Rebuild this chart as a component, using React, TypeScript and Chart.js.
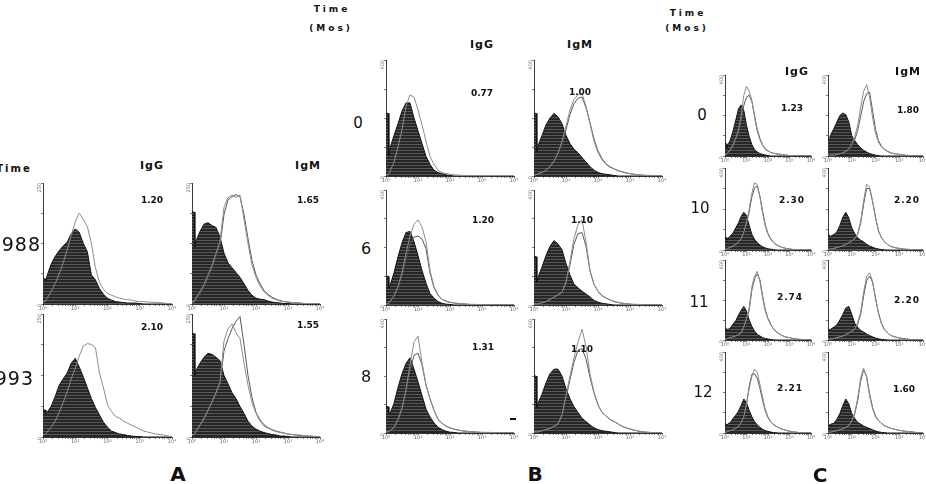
import React, { useEffect, useRef } from "react";
import { Chart, registerables } from "chart.js";

Chart.register(...registerables);

const SANS = '"DejaVu Sans", "Liberation Sans", Arial, sans-serif';

// Fluorescence channel positions in decades (10^0 .. 10^4); the first two
// channels form the narrow pile-up bin at the bottom of the scale.
const CHANNELS = [
  0, 0.07, 0.09, 0.125, 0.25, 0.375, 0.5, 0.625, 0.75, 0.875, 1,
  1.125, 1.25, 1.375, 1.5, 1.625, 1.75, 1.875, 2,
  2.125, 2.25, 2.375, 2.5, 2.625, 2.75, 2.875, 3,
  3.125, 3.25, 3.375, 3.5, 3.625, 3.75, 3.875, 4,
];

const DECADE_LABELS = ["10\u2070", "10\u00B9", "10\u00B2", "10\u00B3", "10\u2074"];
const MINOR_STEPS = [2, 3, 4, 5, 6, 7, 8, 9];

// ---------- Panel A (counts, full scale 250) ----------
const A_IGG_1988_CONTROL = [52, 52, 48, 58, 82, 98, 110, 120, 128, 145, 155, 148, 125, 108, 60, 50, 32, 20, 12, 8, 5, 4, 3, 2, 2, 2, 1, 0, 0, 0, 0, 0, 0, 0, 0];
const A_IGG_1988_STAINED = [5, 5, 5, 12, 25, 42, 62, 85, 112, 142, 170, 188, 175, 160, 125, 75, 45, 30, 22, 18, 15, 12, 10, 9, 8, 6, 5, 5, 4, 4, 3, 3, 2, 1, 0];

const A_IGM_1988_CONTROL = [190, 190, 118, 130, 150, 165, 168, 162, 158, 138, 105, 85, 75, 65, 55, 42, 28, 18, 12, 10, 9, 6, 4, 3, 2, 1, 1, 0, 0, 0, 0, 0, 0, 0, 0];
const A_IGM_1988_STAINED_1 = [5, 5, 5, 12, 25, 40, 60, 80, 105, 130, 200, 220, 225, 220, 225, 175, 125, 80, 55, 38, 25, 18, 12, 9, 6, 5, 4, 3, 3, 2, 1, 1, 1, 0, 0];
const A_IGM_1988_STAINED_2 = [4, 4, 4, 10, 22, 36, 55, 75, 98, 122, 185, 215, 222, 226, 222, 185, 135, 90, 60, 42, 28, 20, 14, 10, 7, 5, 4, 3, 2, 2, 1, 1, 1, 0, 0];

const A_IGG_1993_CONTROL = [55, 55, 48, 50, 62, 82, 105, 118, 130, 150, 160, 142, 122, 100, 78, 60, 45, 30, 20, 12, 9, 6, 5, 3, 2, 1, 1, 0, 0, 0, 0, 0, 0, 0, 0];
const A_IGG_1993_STAINED = [5, 5, 5, 10, 20, 32, 50, 70, 92, 118, 140, 165, 185, 190, 188, 182, 130, 100, 65, 52, 42, 38, 32, 28, 24, 20, 16, 12, 10, 8, 6, 5, 4, 2, 1];

const A_IGM_1993_CONTROL = [210, 210, 125, 135, 150, 162, 170, 168, 162, 155, 125, 108, 90, 78, 62, 48, 32, 22, 16, 12, 9, 7, 5, 4, 2, 2, 1, 0, 0, 0, 0, 0, 0, 0, 0];
const A_IGM_1993_STAINED_1 = [5, 5, 5, 12, 25, 38, 55, 72, 90, 112, 195, 220, 230, 212, 200, 150, 105, 70, 48, 32, 22, 18, 14, 11, 9, 8, 6, 5, 4, 4, 3, 2, 2, 1, 1];
const A_IGM_1993_STAINED_2 = [4, 4, 4, 10, 22, 35, 52, 70, 88, 108, 175, 200, 220, 235, 245, 188, 125, 80, 50, 35, 25, 19, 15, 12, 10, 8, 6, 5, 4, 3, 3, 2, 1, 1, 0];

// ---------- Panel B (counts, full scale 400) ----------
const B_IGG_0_CONTROL = [216, 216, 72, 96, 140, 180, 224, 252, 252, 200, 156, 112, 68, 40, 20, 12, 8, 4, 2, 0, 0, 0, 0, 0, 0, 0, 0, 0, 0, 0, 0, 0, 0, 0, 0];
const B_IGG_0_STAINED = [4, 4, 4, 16, 48, 100, 160, 240, 280, 272, 228, 176, 120, 68, 40, 20, 12, 8, 6, 4, 3, 2, 2, 1, 1, 1, 0, 0, 0, 0, 0, 0, 0, 0, 0];

const B_IGM_0_CONTROL = [216, 216, 84, 104, 140, 176, 200, 216, 204, 180, 140, 112, 92, 80, 64, 48, 32, 20, 12, 8, 6, 4, 2, 0, 0, 0, 0, 0, 0, 0, 0, 0, 0, 0, 0];
const B_IGM_0_STAINED_1 = [4, 4, 4, 8, 12, 20, 32, 52, 80, 120, 172, 228, 264, 280, 284, 240, 180, 120, 80, 56, 40, 30, 24, 18, 14, 10, 8, 6, 4, 3, 2, 2, 1, 1, 0];
const B_IGM_0_STAINED_2 = [4, 4, 4, 8, 12, 20, 30, 50, 76, 112, 160, 212, 250, 268, 272, 236, 184, 128, 86, 60, 42, 32, 25, 19, 15, 11, 8, 6, 4, 3, 2, 2, 1, 1, 0];

const B_IGG_6_CONTROL = [100, 100, 60, 68, 112, 168, 216, 252, 256, 220, 172, 120, 76, 40, 24, 12, 6, 3, 2, 0, 0, 0, 0, 0, 0, 0, 0, 0, 0, 0, 0, 0, 0, 0, 0];
const B_IGG_6_STAINED_1 = [4, 4, 4, 12, 32, 64, 112, 180, 240, 280, 296, 272, 220, 120, 64, 36, 20, 14, 10, 7, 6, 4, 3, 2, 2, 2, 1, 1, 1, 0, 0, 0, 0, 0, 0];
const B_IGG_6_STAINED_2 = [4, 4, 4, 12, 30, 60, 104, 160, 210, 236, 240, 230, 196, 112, 60, 34, 19, 13, 9, 7, 5, 4, 3, 2, 2, 1, 1, 1, 0, 0, 0, 0, 0, 0, 0];

const B_IGM_6_CONTROL = [168, 168, 80, 96, 132, 172, 204, 224, 212, 192, 144, 104, 72, 60, 48, 38, 28, 16, 10, 6, 4, 2, 0, 0, 0, 0, 0, 0, 0, 0, 0, 0, 0, 0, 0];
const B_IGM_6_STAINED_1 = [4, 4, 4, 4, 8, 12, 20, 28, 36, 44, 80, 152, 232, 280, 296, 220, 120, 72, 48, 32, 24, 18, 12, 9, 6, 5, 3, 2, 2, 1, 1, 0, 0, 0, 0];
const B_IGM_6_STAINED_2 = [4, 4, 4, 4, 8, 12, 18, 26, 34, 42, 76, 140, 212, 248, 252, 205, 118, 72, 48, 32, 24, 18, 12, 9, 6, 5, 3, 2, 2, 1, 1, 0, 0, 0, 0];

const B_IGG_8_CONTROL = [92, 92, 68, 68, 104, 160, 208, 244, 264, 224, 180, 132, 84, 56, 36, 20, 12, 6, 3, 2, 0, 0, 0, 0, 0, 0, 0, 0, 0, 0, 0, 0, 0, 0, 0];
const B_IGG_8_STAINED_1 = [4, 4, 4, 8, 20, 48, 88, 152, 240, 320, 340, 248, 168, 120, 80, 48, 34, 24, 18, 14, 10, 8, 6, 5, 4, 3, 2, 2, 2, 1, 1, 1, 0, 0, 0];
const B_IGG_8_STAINED_2 = [4, 4, 4, 8, 18, 44, 84, 144, 220, 272, 280, 240, 168, 120, 80, 48, 34, 24, 18, 14, 10, 8, 6, 5, 4, 3, 2, 2, 2, 1, 1, 1, 0, 0, 0];

const B_IGM_8_CONTROL = [200, 200, 88, 104, 136, 176, 208, 224, 224, 200, 156, 120, 92, 72, 52, 40, 28, 18, 12, 8, 6, 4, 2, 0, 0, 0, 0, 0, 0, 0, 0, 0, 0, 0, 0];
const B_IGM_8_STAINED_1 = [4, 4, 4, 4, 8, 12, 16, 24, 32, 64, 132, 200, 264, 320, 364, 304, 208, 144, 100, 72, 60, 48, 40, 32, 24, 18, 14, 10, 7, 5, 3, 2, 1, 1, 0];
const B_IGM_8_STAINED_2 = [4, 4, 4, 4, 8, 12, 16, 22, 30, 60, 124, 188, 248, 290, 296, 260, 196, 140, 98, 72, 60, 48, 40, 32, 24, 18, 14, 10, 7, 5, 3, 2, 1, 1, 0];

// ---------- Panel C (counts, full scale 400) ----------
const C_IGG_0_CONTROL = [60, 60, 40, 52, 80, 124, 176, 232, 252, 224, 152, 96, 56, 32, 20, 12, 8, 5, 2, 0, 0, 0, 0, 0, 0, 0, 0, 0, 0, 0, 0, 0, 0, 0, 0];
const C_IGG_0_STAINED_1 = [8, 8, 8, 16, 32, 56, 88, 128, 200, 300, 344, 320, 276, 192, 120, 80, 52, 32, 24, 18, 14, 11, 9, 7, 5, 4, 2, 2, 1, 1, 0, 0, 0, 0, 0];
const C_IGG_0_STAINED_2 = [6, 6, 6, 12, 26, 48, 78, 116, 176, 250, 290, 300, 268, 200, 130, 86, 56, 34, 25, 18, 14, 11, 9, 7, 5, 4, 2, 2, 1, 1, 0, 0, 0, 0, 0];

const C_IGM_0_CONTROL = [80, 80, 100, 108, 136, 168, 200, 212, 204, 168, 100, 76, 56, 40, 28, 20, 12, 8, 4, 2, 0, 0, 0, 0, 0, 0, 0, 0, 0, 0, 0, 0, 0, 0, 0];
const C_IGM_0_STAINED_1 = [4, 4, 4, 4, 4, 8, 12, 16, 24, 36, 60, 96, 152, 240, 320, 352, 292, 192, 112, 68, 44, 32, 22, 16, 12, 10, 8, 6, 4, 3, 2, 1, 1, 0, 0];
const C_IGM_0_STAINED_2 = [4, 4, 4, 4, 4, 8, 10, 14, 20, 30, 50, 80, 126, 196, 268, 308, 316, 224, 132, 76, 48, 34, 24, 17, 12, 10, 8, 6, 4, 3, 2, 1, 1, 0, 0];

const C_IGG_10_CONTROL = [60, 60, 48, 56, 68, 84, 108, 132, 164, 184, 168, 120, 76, 52, 36, 24, 16, 10, 6, 4, 2, 0, 0, 0, 0, 0, 0, 0, 0, 0, 0, 0, 0, 0, 0];
const C_IGG_10_STAINED_1 = [4, 4, 4, 8, 12, 20, 28, 40, 56, 88, 136, 200, 276, 328, 320, 256, 180, 116, 76, 52, 36, 26, 20, 14, 10, 7, 5, 3, 2, 1, 1, 0, 0, 0, 0];
const C_IGG_10_STAINED_2 = [4, 4, 4, 8, 12, 18, 26, 36, 52, 82, 126, 188, 260, 304, 312, 262, 190, 122, 80, 54, 38, 27, 20, 14, 10, 7, 5, 3, 2, 1, 1, 0, 0, 0, 0];

const C_IGM_10_CONTROL = [72, 72, 64, 68, 76, 88, 120, 160, 184, 156, 108, 80, 60, 48, 40, 28, 20, 14, 8, 5, 2, 1, 0, 0, 0, 0, 0, 0, 0, 0, 0, 0, 0, 0, 0];
const C_IGM_10_STAINED_1 = [4, 4, 4, 4, 8, 12, 16, 20, 28, 36, 44, 56, 80, 140, 240, 320, 308, 240, 160, 92, 60, 40, 28, 18, 14, 10, 8, 6, 4, 3, 2, 1, 0, 0, 0];
const C_IGM_10_STAINED_2 = [4, 4, 4, 4, 8, 12, 16, 20, 26, 34, 42, 54, 76, 130, 224, 300, 300, 236, 160, 94, 60, 40, 28, 18, 14, 10, 8, 6, 4, 3, 2, 1, 0, 0, 0];

const C_IGG_11_CONTROL = [56, 56, 52, 52, 60, 80, 96, 124, 148, 168, 144, 100, 68, 44, 28, 20, 12, 8, 5, 2, 1, 0, 0, 0, 0, 0, 0, 0, 0, 0, 0, 0, 0, 0, 0];
const C_IGG_11_STAINED_1 = [4, 4, 4, 8, 12, 16, 20, 28, 36, 68, 108, 160, 268, 320, 344, 292, 208, 144, 104, 76, 56, 40, 32, 24, 18, 14, 12, 8, 6, 4, 3, 2, 1, 0, 0];
const C_IGG_11_STAINED_2 = [4, 4, 4, 8, 12, 16, 20, 26, 34, 62, 100, 150, 250, 306, 330, 300, 220, 152, 108, 78, 57, 41, 32, 24, 18, 14, 12, 8, 6, 4, 3, 2, 1, 0, 0];

const C_IGM_11_CONTROL = [52, 52, 52, 56, 64, 76, 100, 128, 160, 168, 128, 84, 64, 48, 40, 30, 22, 16, 10, 6, 3, 2, 0, 0, 0, 0, 0, 0, 0, 0, 0, 0, 0, 0, 0];
const C_IGM_11_STAINED_1 = [4, 4, 4, 4, 8, 12, 16, 20, 28, 36, 44, 56, 88, 140, 240, 316, 336, 296, 208, 132, 80, 52, 36, 24, 18, 14, 10, 8, 6, 4, 2, 1, 1, 0, 0];
const C_IGM_11_STAINED_2 = [4, 4, 4, 4, 8, 12, 16, 20, 26, 34, 42, 52, 80, 128, 220, 296, 320, 290, 210, 136, 84, 54, 37, 24, 18, 14, 10, 8, 6, 4, 2, 1, 1, 0, 0];

const C_IGG_12_CONTROL = [44, 44, 40, 44, 52, 72, 88, 108, 136, 168, 148, 112, 80, 56, 40, 28, 18, 12, 8, 5, 2, 1, 0, 0, 0, 0, 0, 0, 0, 0, 0, 0, 0, 0, 0];
const C_IGG_12_STAINED_1 = [4, 4, 4, 8, 12, 16, 24, 32, 52, 80, 144, 220, 280, 316, 300, 240, 176, 116, 80, 56, 44, 34, 26, 20, 16, 12, 9, 6, 5, 3, 2, 1, 1, 0, 0];
const C_IGG_12_STAINED_2 = [4, 4, 4, 8, 12, 16, 24, 32, 50, 80, 140, 232, 290, 292, 270, 220, 160, 108, 76, 54, 42, 33, 26, 20, 16, 12, 9, 6, 5, 3, 2, 1, 1, 0, 0];

const C_IGM_12_CONTROL = [40, 40, 40, 44, 48, 68, 96, 136, 168, 144, 96, 72, 52, 44, 34, 28, 22, 16, 10, 6, 3, 2, 0, 0, 0, 0, 0, 0, 0, 0, 0, 0, 0, 0, 0];
const C_IGM_12_STAINED_1 = [4, 4, 4, 4, 8, 12, 16, 20, 28, 36, 60, 100, 172, 272, 320, 272, 184, 120, 80, 60, 48, 36, 30, 24, 20, 16, 13, 11, 9, 7, 6, 4, 2, 1, 0];
const C_IGM_12_STAINED_2 = [4, 4, 4, 4, 8, 12, 16, 20, 26, 34, 56, 94, 160, 256, 312, 280, 196, 126, 84, 62, 48, 36, 30, 24, 20, 16, 13, 11, 9, 7, 6, 4, 2, 1, 0];

// ---------- layout ----------
type Box = { x0: number; y0: number; x1: number; y1: number };
type PlotSpec = { box: Box; ymax: number; control: number[]; stained: number[][] };

const A_COLS = [[43, 172], [192, 320]];
const A_ROWS = [[183, 304], [314, 437]];
const B_COLS = [[386, 514], [534, 662]];
const B_ROWS = [[60, 176], [190, 305], [319, 433]];
const C_COLS = [[725, 811], [828, 923]];
const C_ROWS = [[75, 156], [168, 250], [260, 340], [352, 433]];

const box = (col: number[], row: number[]): Box => ({ x0: col[0], x1: col[1], y0: row[0], y1: row[1] });

const PLOTS: PlotSpec[] = [
  { box: box(A_COLS[0], A_ROWS[0]), ymax: 250, control: A_IGG_1988_CONTROL, stained: [A_IGG_1988_STAINED] },
  { box: box(A_COLS[1], A_ROWS[0]), ymax: 250, control: A_IGM_1988_CONTROL, stained: [A_IGM_1988_STAINED_1, A_IGM_1988_STAINED_2] },
  { box: box(A_COLS[0], A_ROWS[1]), ymax: 250, control: A_IGG_1993_CONTROL, stained: [A_IGG_1993_STAINED] },
  { box: box(A_COLS[1], A_ROWS[1]), ymax: 250, control: A_IGM_1993_CONTROL, stained: [A_IGM_1993_STAINED_1, A_IGM_1993_STAINED_2] },

  { box: box(B_COLS[0], B_ROWS[0]), ymax: 400, control: B_IGG_0_CONTROL, stained: [B_IGG_0_STAINED] },
  { box: box(B_COLS[1], B_ROWS[0]), ymax: 400, control: B_IGM_0_CONTROL, stained: [B_IGM_0_STAINED_1, B_IGM_0_STAINED_2] },
  { box: box(B_COLS[0], B_ROWS[1]), ymax: 400, control: B_IGG_6_CONTROL, stained: [B_IGG_6_STAINED_1, B_IGG_6_STAINED_2] },
  { box: box(B_COLS[1], B_ROWS[1]), ymax: 400, control: B_IGM_6_CONTROL, stained: [B_IGM_6_STAINED_1, B_IGM_6_STAINED_2] },
  { box: box(B_COLS[0], B_ROWS[2]), ymax: 400, control: B_IGG_8_CONTROL, stained: [B_IGG_8_STAINED_1, B_IGG_8_STAINED_2] },
  { box: box(B_COLS[1], B_ROWS[2]), ymax: 400, control: B_IGM_8_CONTROL, stained: [B_IGM_8_STAINED_1, B_IGM_8_STAINED_2] },

  { box: box(C_COLS[0], C_ROWS[0]), ymax: 400, control: C_IGG_0_CONTROL, stained: [C_IGG_0_STAINED_1, C_IGG_0_STAINED_2] },
  { box: box(C_COLS[1], C_ROWS[0]), ymax: 400, control: C_IGM_0_CONTROL, stained: [C_IGM_0_STAINED_1, C_IGM_0_STAINED_2] },
  { box: box(C_COLS[0], C_ROWS[1]), ymax: 400, control: C_IGG_10_CONTROL, stained: [C_IGG_10_STAINED_1, C_IGG_10_STAINED_2] },
  { box: box(C_COLS[1], C_ROWS[1]), ymax: 400, control: C_IGM_10_CONTROL, stained: [C_IGM_10_STAINED_1, C_IGM_10_STAINED_2] },
  { box: box(C_COLS[0], C_ROWS[2]), ymax: 400, control: C_IGG_11_CONTROL, stained: [C_IGG_11_STAINED_1, C_IGG_11_STAINED_2] },
  { box: box(C_COLS[1], C_ROWS[2]), ymax: 400, control: C_IGM_11_CONTROL, stained: [C_IGM_11_STAINED_1, C_IGM_11_STAINED_2] },
  { box: box(C_COLS[0], C_ROWS[3]), ymax: 400, control: C_IGG_12_CONTROL, stained: [C_IGG_12_STAINED_1, C_IGG_12_STAINED_2] },
  { box: box(C_COLS[1], C_ROWS[3]), ymax: 400, control: C_IGM_12_CONTROL, stained: [C_IGM_12_STAINED_1, C_IGM_12_STAINED_2] },
];

// Margins around each plot frame reserved for the tiny axis labels.
const YW = 10;
const PT = 4;
const PR = 7;
const XH = 9;

const STAINED_COLORS = ["#8c8c8c", "#585858"];

function makeStripes(ctx: CanvasRenderingContext2D): CanvasPattern | string {
  const tile = document.createElement("canvas");
  tile.width = 4;
  tile.height = 3;
  const g = tile.getContext("2d");
  if (!g) return "#333";
  g.fillStyle = "#262626";
  g.fillRect(0, 0, 4, 3);
  g.fillStyle = "#575757";
  g.fillRect(0, 1, 4, 1);
  return ctx.createPattern(tile, "repeat") || "#333";
}

function logTicks(): number[] {
  const out: number[] = [];
  for (let d = 0; d < 4; d++) {
    out.push(d);
    MINOR_STEPS.forEach((k) => out.push(d + Math.log10(k)));
  }
  out.push(4);
  return out;
}

function Histogram({ spec }: { spec: PlotSpec }) {
  const ref = useRef<HTMLCanvasElement>(null);
  const { box: b, ymax, control, stained } = spec;
  const w = b.x1 - b.x0 + YW + PR;
  const h = b.y1 - b.y0 + PT + XH;

  useEffect(() => {
    const canvas = ref.current;
    if (!canvas) return;
    const ctx = canvas.getContext("2d");
    if (!ctx) return;
    const stripes = makeStripes(ctx);
    const toPoints = (arr: number[]) => arr.map((y, i) => ({ x: CHANNELS[i], y }));
    const ticksX = logTicks();

    const chart = new Chart(canvas, {
      type: "line",
      data: {
        datasets: [
          ...stained.map((s, i) => ({
            data: toPoints(s),
            borderColor: STAINED_COLORS[i % STAINED_COLORS.length],
            borderWidth: 1,
            pointRadius: 0,
            fill: false,
            tension: 0,
          })),
          {
            data: toPoints(control),
            borderColor: "#141414",
            borderWidth: 1,
            backgroundColor: stripes as any,
            fill: "origin",
            pointRadius: 0,
            tension: 0,
          },
        ],
      },
      options: {
        animation: false,
        responsive: false,
        maintainAspectRatio: false,
        devicePixelRatio: 1,
        events: [],
        layout: { padding: { left: 0, right: PR, top: PT, bottom: 0 } },
        plugins: { legend: { display: false }, tooltip: { enabled: false } },
        scales: {
          x: {
            type: "linear",
            min: 0,
            max: 4,
            afterBuildTicks: (s: any) => {
              s.ticks = ticksX.map((v) => ({ value: v }));
            },
            afterFit: (s: any) => {
              s.height = XH;
              s.paddingLeft = 0;
              s.paddingRight = 0;
            },
            ticks: {
              autoSkip: false,
              maxRotation: 0,
              minRotation: 0,
              padding: 0,
              color: "#6a6a6a",
              font: { size: 5, family: SANS },
              callback: (v: any) => {
                const n = Number(v);
                return Math.abs(n - Math.round(n)) < 1e-9 ? DECADE_LABELS[Math.round(n)] : "";
              },
            },
            grid: { drawOnChartArea: false, drawTicks: true, tickLength: 2, color: "#4a4a4a", lineWidth: 0.7 },
            border: { display: true, color: "#333", width: 1 },
          },
          y: {
            min: 0,
            max: ymax,
            afterBuildTicks: (s: any) => {
              s.ticks = [0, 1, 2, 3, 4].map((i) => ({ value: (ymax * i) / 4 }));
            },
            afterFit: (s: any) => {
              s.width = YW;
              s.paddingTop = 0;
              s.paddingBottom = 0;
            },
            ticks: {
              autoSkip: false,
              minRotation: 90,
              maxRotation: 90,
              padding: 1,
              color: "#6a6a6a",
              font: { size: 5, family: SANS },
              callback: (v: any) => {
                const n = Number(v);
                return n === 0 || n === ymax ? String(n) : "";
              },
            },
            grid: { drawOnChartArea: false, drawTicks: true, tickLength: 2, color: "#4a4a4a", lineWidth: 0.7 },
            border: { display: true, color: "#3a3a3a", width: 1 },
          },
        },
      },
    } as any);
    return () => chart.destroy();
  }, [spec]);

  return (
    <canvas
      ref={ref}
      width={w}
      height={h}
      style={{ position: "absolute", left: b.x0 - YW, top: b.y0 - PT, width: w, height: h }}
    />
  );
}

type TextSpec = { text: string; x: number; y: number; size: number; weight?: number; spacing?: number; anchor?: "center" | "right" };

const TEXTS: TextSpec[] = [
  // Panel A
  { text: "Time", x: 14, y: 169, size: 10, weight: 700, spacing: 2 },
  { text: "1988", x: 41, y: 244, size: 19, weight: 400, spacing: 1, anchor: "right" },
  { text: "1993", x: 34, y: 378, size: 19, weight: 400, spacing: 1, anchor: "right" },
  { text: "IgG", x: 152, y: 165, size: 11, weight: 700, spacing: 1 },
  { text: "IgM", x: 308, y: 165, size: 11, weight: 700, spacing: 1 },
  { text: "1.20", x: 152, y: 200, size: 9, weight: 700 },
  { text: "1.65", x: 308, y: 200, size: 9, weight: 700 },
  { text: "2.10", x: 152, y: 327, size: 9, weight: 700 },
  { text: "1.55", x: 308, y: 325, size: 9, weight: 700 },
  { text: "A", x: 178, y: 474, size: 20, weight: 700 },
  // Panel B
  { text: "Time", x: 332, y: 9, size: 9, weight: 700, spacing: 3 },
  { text: "(Mos)", x: 331, y: 28, size: 9, weight: 700, spacing: 3 },
  { text: "IgG", x: 482, y: 44, size: 11, weight: 700, spacing: 1 },
  { text: "IgM", x: 580, y: 44, size: 11, weight: 700, spacing: 1 },
  { text: "0", x: 358, y: 123, size: 15, weight: 400 },
  { text: "6", x: 366, y: 249, size: 16, weight: 400 },
  { text: "8", x: 366, y: 377, size: 16, weight: 400 },
  { text: "0.77", x: 482, y: 93, size: 9, weight: 700 },
  { text: "1.00", x: 580, y: 92, size: 9, weight: 700 },
  { text: "1.20", x: 483, y: 220, size: 9, weight: 700 },
  { text: "1.10", x: 582, y: 220, size: 9, weight: 700 },
  { text: "1.31", x: 483, y: 347, size: 9, weight: 700 },
  { text: "1.10", x: 582, y: 349, size: 9, weight: 700 },
  { text: "B", x: 535, y: 474, size: 20, weight: 700 },
  // Panel C
  { text: "Time", x: 688, y: 13, size: 9, weight: 700, spacing: 3 },
  { text: "(Mos)", x: 687, y: 28, size: 9, weight: 700, spacing: 3 },
  { text: "IgG", x: 797, y: 71, size: 11, weight: 700, spacing: 1 },
  { text: "IgM", x: 908, y: 71, size: 11, weight: 700, spacing: 1 },
  { text: "0", x: 702, y: 115, size: 15, weight: 400 },
  { text: "10", x: 700, y: 208, size: 15, weight: 400 },
  { text: "11", x: 699, y: 302, size: 15, weight: 400 },
  { text: "12", x: 703, y: 392, size: 15, weight: 400 },
  { text: "1.23", x: 792, y: 108, size: 9, weight: 700 },
  { text: "1.80", x: 908, y: 110, size: 9, weight: 700 },
  { text: "2.30", x: 792, y: 200, size: 9, weight: 700, spacing: 1 },
  { text: "2.20", x: 907, y: 200, size: 9, weight: 700, spacing: 1 },
  { text: "2.74", x: 790, y: 297, size: 9, weight: 700, spacing: 1 },
  { text: "2.20", x: 907, y: 300, size: 9, weight: 700, spacing: 1 },
  { text: "2.21", x: 790, y: 388, size: 9, weight: 700, spacing: 1 },
  { text: "1.60", x: 904, y: 389, size: 9, weight: 700 },
  { text: "C", x: 820, y: 475, size: 20, weight: 700 },
];

function Label({ t }: { t: TextSpec }) {
  const right = t.anchor === "right";
  return (
    <div
      style={{
        position: "absolute",
        left: right ? undefined : t.x,
        right: right ? 926 - t.x : undefined,
        top: t.y,
        transform: right ? "translateY(-50%)" : "translate(-50%, -50%)",
        fontFamily: SANS,
        fontSize: t.size,
        fontWeight: t.weight ?? 400,
        letterSpacing: t.spacing ?? 0,
        lineHeight: 1,
        color: "#111",
        whiteSpace: "nowrap",
      }}
    >
      {t.text}
    </div>
  );
}

export default function App() {
  return (
    <div
      style={{
        position: "absolute",
        left: 0,
        top: 0,
        width: 926,
        height: 484,
        overflow: "hidden",
        background: "#fff",
      }}
    >
      {PLOTS.map((p, i) => (
        <Histogram key={i} spec={p} />
      ))}
      {TEXTS.map((t, i) => (
        <Label key={i} t={t} />
      ))}
      <div style={{ position: "absolute", left: 510, top: 418, width: 6, height: 2, background: "#111" }} />
    </div>
  );
}
